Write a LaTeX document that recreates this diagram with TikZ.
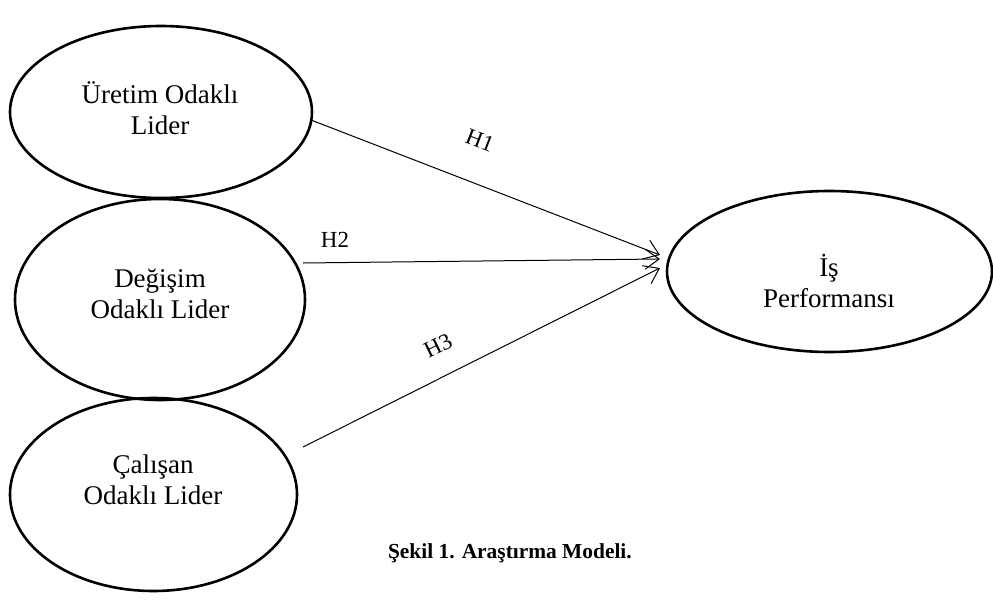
\documentclass[tikz,border=0pt]{standalone}
\usepackage{fontspec}
\setmainfont{Liberation Serif}
\usetikzlibrary{shapes.geometric,arrows.meta}
\begin{document}
\begin{tikzpicture}[x=0.5pt,y=-0.5pt,
  oval/.style={draw,ellipse,line width=1.3pt,inner sep=0pt},
  lbl/.style={align=center,font=\fontsize{13.5}{15.5}\selectfont},
  hlab/.style={font=\fontsize{11.5}{13}\selectfont},
  conn/.style={line width=0.5pt,-{Straight Barb[length=7pt,width=10pt]}}]
\useasboundingbox (0,0) rectangle (993,605);
\node[oval,minimum width=151pt,minimum height=86pt] (e1) at (161,112) {};
\node[oval,minimum width=145pt,minimum height=100.5pt] (e2) at (160,299.5) {};
\node[oval,minimum width=143.5pt,minimum height=96.5pt] (e3) at (153.5,494.5) {};
\node[oval,minimum width=162.5pt,minimum height=80.5pt] (e4) at (829.5,271.5) {};
\node[lbl] (t1) at (160,108) {Üretim Odaklı\\Lider};
\node[lbl] (t2) at (160,294) {Değişim\\Odaklı Lider};
\node[lbl] (t3) at (153,480) {Çalışan\\Odaklı Lider};
\node[lbl] (t4) at (829,281) {İş\\Performansı};
\coordinate (s1) at (311,120);
\coordinate (s2) at (303,263);
\coordinate (s3) at (303,447);
\coordinate (f1) at (660,255);
\coordinate (f2) at (660,259);
\coordinate (f3) at (660,268);
\draw[conn] (s1) -- (f1);
\draw[conn] (s2) -- (f2);
\draw[conn] (s3) -- (f3);
\node[hlab,rotate=-21] (h1) at (480,140) {H1};
\node[hlab] (h2) at (335,240) {H2};
\node[hlab,rotate=26] (h3) at (438,346) {H3};
\node[anchor=west,font=\fontsize{10.7}{13}\selectfont\bfseries] (cap) at (381,553) {Şekil 1. Araştırma Modeli.};
\end{tikzpicture}
\end{document}
